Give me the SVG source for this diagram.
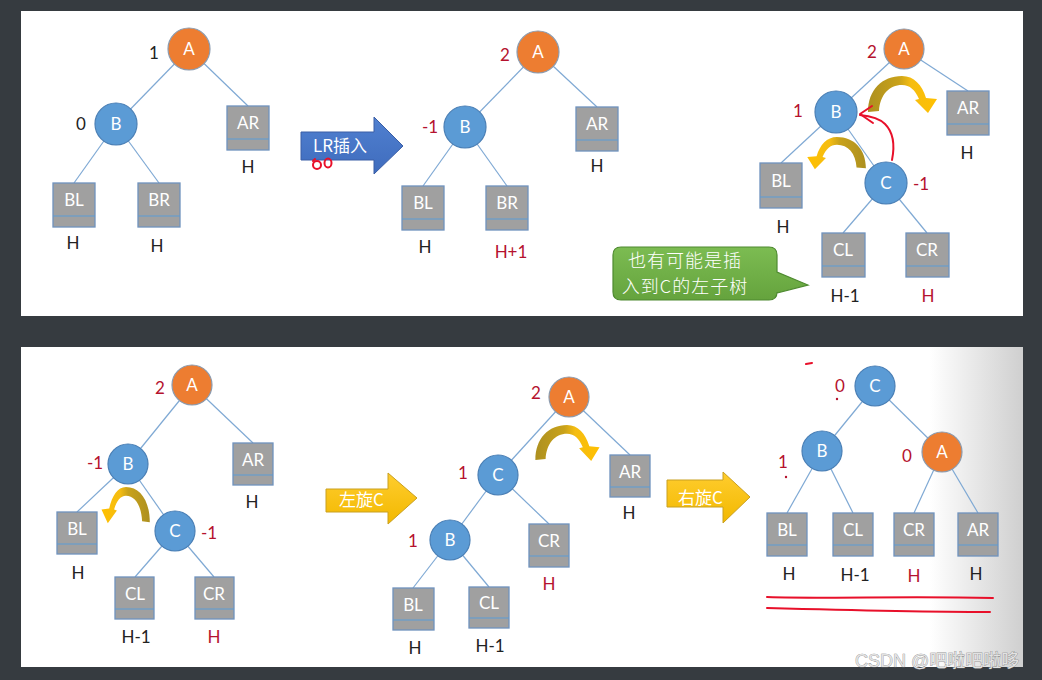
<svg xmlns="http://www.w3.org/2000/svg" width="1042" height="680" viewBox="0 0 1042 680">
<style>
.edge{stroke:#7fa9d4;stroke-width:1.2;fill:none}
.nb{fill:#5b9bd5;stroke:#4a7fb5;stroke-width:1.2}
.no{fill:#ed7d31;stroke:#8a9bb0;stroke-width:1.2}
.box{fill:#a0a0a0;stroke:#6f92bd;stroke-width:1.3}
.dv{stroke:#5b9bd5;stroke-width:1.2}
.nt{font-family:Lato,"Liberation Sans",sans-serif;font-size:17px;fill:#fff;text-anchor:middle}
.lb{font-family:Lato,"Liberation Sans",sans-serif;font-size:17px;fill:#222;text-anchor:middle}
.lr{fill:#b5122e}
.cj{font-family:"Noto Sans CJK SC",sans-serif;fill:#fff}
.hd{fill:none;stroke:#e8102a;stroke-width:2;stroke-linecap:round;stroke-linejoin:round}
</style>
<defs>
<linearGradient id="gold" x1="0" y1="0" x2="1" y2="0">
<stop offset="0" stop-color="#ad9020"/><stop offset="0.45" stop-color="#c9a21a"/><stop offset="0.62" stop-color="#f5bd12"/><stop offset="1" stop-color="#ffc000"/>
</linearGradient>
<linearGradient id="yel" x1="0" y1="0" x2="0" y2="1">
<stop offset="0" stop-color="#ffcd2e"/><stop offset="1" stop-color="#f2b800"/>
</linearGradient>
<linearGradient id="blu" x1="0" y1="0" x2="0" y2="1">
<stop offset="0" stop-color="#5080d0"/><stop offset="1" stop-color="#3f6cbd"/>
</linearGradient>
<linearGradient id="grn" x1="0" y1="0" x2="0" y2="1">
<stop offset="0" stop-color="#7cbc52"/><stop offset="1" stop-color="#65a33d"/>
</linearGradient>
<linearGradient id="shade" gradientUnits="userSpaceOnUse" x1="930" y1="0" x2="1023" y2="0">
<stop offset="0" stop-color="#ffffff"/><stop offset="1" stop-color="#cfcfcf"/>
</linearGradient>
<path id="curv" d="M-34,36 C-34,14 -20,0 0,0 C12,0 20,9 24,22 L35,23 L26,37 L13,24 L17,23 C13,14 8,9 0,9 C-13,9 -22,19 -23,35 Z"/>
</defs>
<rect width="1042" height="680" fill="#363b40"/>
<rect x="21" y="11" width="1002" height="305" fill="#ffffff"/>
<rect x="21" y="347" width="1002" height="320" fill="#ffffff"/>
<rect x="930" y="347" width="93" height="320" fill="url(#shade)"/>

<g id="connectors">
<line class="edge" x1="189" y1="49" x2="116" y2="124"/>
<line class="edge" x1="189" y1="49" x2="248" y2="106"/>
<line class="edge" x1="116" y1="124" x2="74" y2="183"/>
<line class="edge" x1="116" y1="124" x2="159" y2="183"/>
<line class="edge" x1="538" y1="52" x2="465" y2="127"/>
<line class="edge" x1="538" y1="52" x2="597" y2="107"/>
<line class="edge" x1="465" y1="127" x2="423" y2="186"/>
<line class="edge" x1="465" y1="127" x2="507" y2="186"/>
<line class="edge" x1="904" y1="49" x2="836" y2="112"/>
<line class="edge" x1="904" y1="49" x2="968" y2="91"/>
<line class="edge" x1="836" y1="112" x2="781" y2="163"/>
<line class="edge" x1="836" y1="112" x2="886" y2="183"/>
<line class="edge" x1="886" y1="183" x2="843" y2="233"/>
<line class="edge" x1="886" y1="183" x2="927" y2="233"/>
<line class="edge" x1="192" y1="385" x2="128" y2="464"/>
<line class="edge" x1="192" y1="385" x2="253" y2="443"/>
<line class="edge" x1="128" y1="464" x2="77" y2="512"/>
<line class="edge" x1="128" y1="464" x2="175" y2="531"/>
<line class="edge" x1="175" y1="531" x2="135" y2="577"/>
<line class="edge" x1="175" y1="531" x2="214" y2="577"/>
<line class="edge" x1="569" y1="397" x2="498" y2="475"/>
<line class="edge" x1="569" y1="397" x2="630" y2="455"/>
<line class="edge" x1="498" y1="475" x2="450" y2="540"/>
<line class="edge" x1="498" y1="475" x2="549" y2="524"/>
<line class="edge" x1="450" y1="540" x2="413" y2="588"/>
<line class="edge" x1="450" y1="540" x2="489" y2="587"/>
<line class="edge" x1="875" y1="386" x2="822" y2="451"/>
<line class="edge" x1="875" y1="386" x2="942" y2="452"/>
<line class="edge" x1="822" y1="451" x2="787" y2="513"/>
<line class="edge" x1="822" y1="451" x2="853" y2="513"/>
<line class="edge" x1="942" y1="452" x2="914" y2="513"/>
<line class="edge" x1="942" y1="452" x2="978" y2="513"/>
</g>

<!-- panel 1 -->
<g id="p1-A"><circle class="no" cx="189" cy="49" r="21"/><text class="nt" x="189" y="55">A</text></g>
<g id="p1-B"><circle class="nb" cx="116" cy="124" r="21"/><text class="nt" x="116" y="130">B</text></g>
<g id="p1-AR"><rect class="box" x="227" y="106" width="42" height="44"/><line class="dv" x1="227" y1="139" x2="269" y2="139"/><text class="nt" x="248" y="129">AR</text></g>
<g id="p1-BL"><rect class="box" x="53" y="183" width="42" height="44"/><line class="dv" x1="53" y1="216" x2="95" y2="216"/><text class="nt" x="74" y="206">BL</text></g>
<g id="p1-BR"><rect class="box" x="138" y="183" width="42" height="44"/><line class="dv" x1="138" y1="216" x2="180" y2="216"/><text class="nt" x="159" y="206">BR</text></g>

<!-- panel 2 -->
<g id="p2-A"><circle class="no" cx="538" cy="52" r="21"/><text class="nt" x="538" y="58">A</text></g>
<g id="p2-B"><circle class="nb" cx="465" cy="127" r="21"/><text class="nt" x="465" y="133">B</text></g>
<g id="p2-AR"><rect class="box" x="576" y="107" width="42" height="44"/><line class="dv" x1="576" y1="140" x2="618" y2="140"/><text class="nt" x="597" y="130">AR</text></g>
<g id="p2-BL"><rect class="box" x="402" y="186" width="42" height="44"/><line class="dv" x1="402" y1="219" x2="444" y2="219"/><text class="nt" x="423" y="209">BL</text></g>
<g id="p2-BR"><rect class="box" x="486" y="186" width="42" height="44"/><line class="dv" x1="486" y1="219" x2="528" y2="219"/><text class="nt" x="507" y="209">BR</text></g>

<!-- panel 3 -->
<g id="p3-A"><circle class="no" cx="904" cy="49" r="20"/><text class="nt" x="904" y="55">A</text></g>
<g id="p3-B"><circle class="nb" cx="836" cy="112" r="21"/><text class="nt" x="836" y="118">B</text></g>
<g id="p3-C"><circle class="nb" cx="886" cy="183" r="21"/><text class="nt" x="886" y="189">C</text></g>
<g id="p3-AR"><rect class="box" x="947" y="91" width="42" height="44"/><line class="dv" x1="947" y1="124" x2="989" y2="124"/><text class="nt" x="968" y="114">AR</text></g>
<g id="p3-BL"><rect class="box" x="760" y="163" width="42" height="45"/><line class="dv" x1="760" y1="197" x2="802" y2="197"/><text class="nt" x="781" y="187">BL</text></g>
<g id="p3-CL"><rect class="box" x="822" y="233" width="43" height="44"/><line class="dv" x1="822" y1="266" x2="865" y2="266"/><text class="nt" x="843" y="256">CL</text></g>
<g id="p3-CR"><rect class="box" x="906" y="233" width="43" height="44"/><line class="dv" x1="906" y1="266" x2="949" y2="266"/><text class="nt" x="927" y="256">CR</text></g>

<!-- panel 4 -->
<g id="p4-A"><circle class="no" cx="192" cy="385" r="20"/><text class="nt" x="192" y="391">A</text></g>
<g id="p4-B"><circle class="nb" cx="128" cy="464" r="20"/><text class="nt" x="128" y="470">B</text></g>
<g id="p4-C"><circle class="nb" cx="175" cy="531" r="20"/><text class="nt" x="175" y="537">C</text></g>
<g id="p4-AR"><rect class="box" x="233" y="443" width="40" height="42"/><line class="dv" x1="233" y1="475" x2="273" y2="475"/><text class="nt" x="253" y="466">AR</text></g>
<g id="p4-BL"><rect class="box" x="57" y="512" width="40" height="42"/><line class="dv" x1="57" y1="544" x2="97" y2="544"/><text class="nt" x="77" y="535">BL</text></g>
<g id="p4-CL"><rect class="box" x="115" y="577" width="39" height="42"/><line class="dv" x1="115" y1="609" x2="154" y2="609"/><text class="nt" x="135" y="600">CL</text></g>
<g id="p4-CR"><rect class="box" x="195" y="577" width="39" height="42"/><line class="dv" x1="195" y1="609" x2="234" y2="609"/><text class="nt" x="214" y="600">CR</text></g>

<!-- panel 5 -->
<g id="p5-A"><circle class="no" cx="569" cy="397" r="20"/><text class="nt" x="569" y="403">A</text></g>
<g id="p5-C"><circle class="nb" cx="498" cy="475" r="20"/><text class="nt" x="498" y="481">C</text></g>
<g id="p5-B"><circle class="nb" cx="450" cy="540" r="20"/><text class="nt" x="450" y="546">B</text></g>
<g id="p5-AR"><rect class="box" x="610" y="455" width="40" height="42"/><line class="dv" x1="610" y1="487" x2="650" y2="487"/><text class="nt" x="630" y="478">AR</text></g>
<g id="p5-CR"><rect class="box" x="529" y="524" width="40" height="43"/><line class="dv" x1="529" y1="556" x2="569" y2="556"/><text class="nt" x="549" y="547">CR</text></g>
<g id="p5-BL"><rect class="box" x="393" y="588" width="41" height="42"/><line class="dv" x1="393" y1="620" x2="434" y2="620"/><text class="nt" x="413" y="611">BL</text></g>
<g id="p5-CL"><rect class="box" x="469" y="587" width="40" height="41"/><line class="dv" x1="469" y1="618" x2="509" y2="618"/><text class="nt" x="489" y="609">CL</text></g>

<!-- panel 6 -->
<g id="p6-C"><circle class="nb" cx="875" cy="386" r="20"/><text class="nt" x="875" y="392">C</text></g>
<g id="p6-B"><circle class="nb" cx="822" cy="451" r="20"/><text class="nt" x="822" y="457">B</text></g>
<g id="p6-A"><circle class="no" cx="942" cy="452" r="20"/><text class="nt" x="942" y="458">A</text></g>
<g id="p6-BL"><rect class="box" x="767" y="513" width="40" height="43"/><line class="dv" x1="767" y1="545" x2="807" y2="545"/><text class="nt" x="787" y="536">BL</text></g>
<g id="p6-CL"><rect class="box" x="833" y="513" width="40" height="43"/><line class="dv" x1="833" y1="545" x2="873" y2="545"/><text class="nt" x="853" y="536">CL</text></g>
<g id="p6-CR"><rect class="box" x="894" y="513" width="40" height="43"/><line class="dv" x1="894" y1="545" x2="934" y2="545"/><text class="nt" x="914" y="536">CR</text></g>
<g id="p6-AR"><rect class="box" x="958" y="513" width="40" height="43"/><line class="dv" x1="958" y1="545" x2="998" y2="545"/><text class="nt" x="978" y="536">AR</text></g>

<g id="labels">
<text class="lb" x="154" y="59">1</text>
<text class="lb" x="81" y="130">0</text>
<text class="lb" x="248" y="173">H</text>
<text class="lb" x="73" y="249">H</text>
<text class="lb" x="157" y="252">H</text>
<text class="lb lr" x="505" y="61">2</text>
<text class="lb lr" x="430" y="133">-1</text>
<text class="lb" x="425" y="253">H</text>
<text class="lb lr" x="511" y="258">H+1</text>
<text class="lb" x="597" y="172">H</text>
<text class="lb lr" x="872" y="58">2</text>
<text class="lb lr" x="798" y="117">1</text>
<text class="lb lr" x="921" y="190">-1</text>
<text class="lb" x="967" y="159">H</text>
<text class="lb" x="783" y="233">H</text>
<text class="lb" x="845" y="302">H-1</text>
<text class="lb lr" x="928" y="302">H</text>
<text class="lb lr" x="160" y="394">2</text>
<text class="lb lr" x="95" y="469">-1</text>
<text class="lb lr" x="209" y="539">-1</text>
<text class="lb" x="252" y="508">H</text>
<text class="lb" x="78" y="579">H</text>
<text class="lb" x="136" y="643">H-1</text>
<text class="lb lr" x="214" y="643">H</text>
<text class="lb lr" x="536" y="399">2</text>
<text class="lb lr" x="463" y="479">1</text>
<text class="lb lr" x="413" y="547">1</text>
<text class="lb" x="629" y="519">H</text>
<text class="lb lr" x="549" y="590">H</text>
<text class="lb" x="415" y="654">H</text>
<text class="lb" x="490" y="652">H-1</text>
<text class="lb lr" x="840" y="392">0</text>
<text class="lb lr" x="783" y="468">1</text>
<text class="lb lr" x="907" y="462">0</text>
<text class="lb" x="789" y="580">H</text>
<text class="lb" x="855" y="581">H-1</text>
<text class="lb lr" x="914" y="582">H</text>
<text class="lb" x="976" y="580">H</text>
</g>

<g id="curved-arrows">
<use href="#curv" fill="url(#gold)" transform="translate(902,76)"/>
<use href="#curv" fill="url(#gold)" transform="translate(837,137) scale(-0.85,0.87)"/>
<use href="#curv" fill="url(#gold)" transform="translate(126,487) scale(-0.7,0.98)"/>
<use href="#curv" fill="url(#gold)" transform="translate(567,425) scale(0.93,0.97)"/>
</g>

<g id="arrow-LR">
<polygon points="301,132 374,132 374,117 403,146 374,174 374,160 301,160" fill="url(#blu)" stroke="#3a5ea6" stroke-width="1"/>
<text class="cj" x="313" y="152" font-size="17">LR插入</text>
</g>
<g id="arrow-left-rot">
<polygon points="326,489 388,489 388,473 417,498 388,524 388,512 326,512" fill="url(#yel)" stroke="#c9a020" stroke-width="1"/>
<text class="cj" x="339" y="506" font-size="17">左旋C</text>
</g>
<g id="arrow-right-rot">
<polygon points="667,480 723,480 723,472 750,497 723,523 723,507 667,507" fill="url(#yel)" stroke="#c9a020" stroke-width="1"/>
<text class="cj" x="678" y="504" font-size="17">右旋C</text>
</g>

<g id="callout">
<path d="M621,247 H769 Q777,247 777,255 V272 L808,285 L777,293 V292 Q777,300 769,300 H621 Q613,300 613,292 V255 Q613,247 621,247 Z" fill="url(#grn)" stroke="#4e8a30" stroke-width="1.2"/>
<text class="cj" x="685" y="267" font-size="18" font-weight="300" text-anchor="middle" letter-spacing="1">也有可能是插</text>
<text class="cj" x="685" y="293" font-size="18" font-weight="300" text-anchor="middle" letter-spacing="1">入到C的左子树</text>
</g>

<g id="handdrawn">
<ellipse class="hd" cx="317" cy="165" rx="4" ry="4"/>
<ellipse class="hd" cx="328" cy="163" rx="3.5" ry="4.5"/>
<path class="hd" d="M313,161 L315,159"/>
<path class="hd" d="M892,160 C895,145 893,132 885,124 C879,118 870,116 860,115"/>
<path class="hd" d="M872,106 L860,114 L873,123"/>
<path class="hd" d="M806,364 L812,363"/>
<circle cx="837" cy="399" r="1.2" fill="#b5122e"/>
<circle cx="786" cy="477" r="1.2" fill="#b5122e"/>
<path class="hd" d="M767,597 C830,599 900,596 993,598"/>
<path class="hd" d="M767,608 C840,610 920,612 990,612"/>
</g>

<text x="855" y="667" font-family="'Liberation Sans','Noto Sans CJK SC',sans-serif" font-size="18" fill="#e2e2e2" stroke="#7a7a7a" stroke-width="0.6" paint-order="stroke">CSDN @吧啦吧啦哆</text>
</svg>
